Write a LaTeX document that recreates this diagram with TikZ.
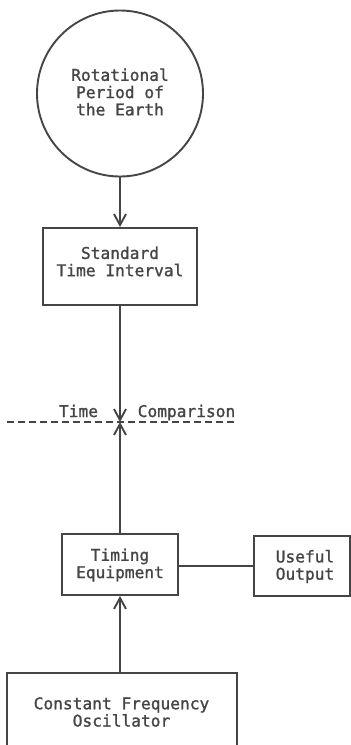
\documentclass[tikz,border=0pt]{standalone}
\usepackage{fontspec}
\newfontfamily\typewriter[FakeBold=1.3]{DejaVu Sans Mono}
\usetikzlibrary{arrows.meta}
\definecolor{ink}{HTML}{454545}
\tikzset{
  base/.style={draw=ink, line width=1.9pt},
  box/.style={base, rectangle, inner sep=0pt},
  txt/.style={text=ink, align=center, inner sep=0pt,
    font=\typewriter\fontsize{16.2}{17.3}\selectfont},
  flow/.style={draw=ink, line width=1.9pt,
    -{Straight Barb[length=11pt,width=12pt,line width=1.9pt]}},
  plain/.style={draw=ink, line width=2pt},
  cut/.style={draw=ink, line width=1.6pt, dash pattern=on 7pt off 4pt}
}
\begin{document}
\begin{tikzpicture}[x=1pt,y=-1pt]
\useasboundingbox (0,0) rectangle (351,745);
\clip (0,0) rectangle (351,745);

% reference source
\node[base, circle, minimum size=166pt, inner sep=0pt] (earth) at (120,93.5) {};
\node[txt] (earthtxt) at (120,92) {Rotational\\Period of\\the Earth};

% standard interval
\node[box, minimum width=154pt, minimum height=77pt] (std) at (120,266.5) {};
\node[txt] (stdtxt) at (120,261.5) {Standard\\Time Interval};

% comparison plane
\coordinate (tc) at (120,422);
\coordinate (cl) at (7,422);
\coordinate (cr) at (235,422);
\draw[cut] (cl) -- (cr);
\node[txt, anchor=base] (timelbl) at (78.5,417) {Time};
\node[txt, anchor=base] (complbl) at (186.5,417) {Comparison};

% timing chain
\node[box, minimum width=116pt, minimum height=61pt] (timing) at (120,564.5) {};
\node[txt] (timingtxt) at (120,565) {Timing\\Equipment};
\node[box, minimum width=96pt, minimum height=60pt] (useful) at (302,566) {};
\node[txt] (usefultxt) at (305,566.5) {Useful\\Output};
\node[box, minimum width=230pt, minimum height=78pt] (osc) at (122,712) {};
\node[txt] (osctxt) at (121.5,712) {Constant Frequency\\Oscillator};

% connectors
\draw[flow] (earth.south) -- (std.north);
\draw[flow] (std.south) -- (tc);
\draw[flow] (timing.north) -- (tc);
\draw[flow] (timing.south |- osc.north) -- (timing.south);
\draw[plain] (timing.east |- useful.west) -- (useful.west);
\end{tikzpicture}
\end{document}
